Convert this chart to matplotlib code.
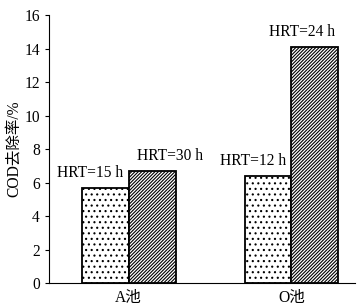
import numpy as np
import matplotlib.pyplot as plt

plt.rcParams['font.family'] = ['Liberation Serif', 'Noto Sans CJK SC']
plt.rcParams['hatch.linewidth'] = 0.8

groups = ['A池', 'O池']
short_vals = [5.7, 6.4]
long_vals = [6.7, 14.1]
short_labels = ['HRT=15 h', 'HRT=12 h']
long_labels = ['HRT=30 h', 'HRT=24 h']

fig = plt.figure(figsize=(3.57, 3.08), dpi=100)
ax = fig.add_axes([0.137, 0.081, 0.857, 0.87])

x = np.arange(len(groups))
w = 0.288
b1 = ax.bar(x - w / 2, short_vals, w, color='white', edgecolor='black',
            hatch='...', linewidth=1.3)
b2 = ax.bar(x + w / 2, long_vals, w, color='white', edgecolor='black',
            hatch='//////////', linewidth=1.3)

fs = 11.2
# horizontal nudges of the labels (points), as in the original figure
short_dx = [-11, -11]
long_dx = [13, -9]
for i in range(len(groups)):
    ax.annotate(short_labels[i], (x[i] - w / 2, short_vals[i]),
                xytext=(short_dx[i], 5), textcoords='offset points',
                ha='center', va='bottom', fontsize=fs)
    ax.annotate(long_labels[i], (x[i] + w / 2, long_vals[i]),
                xytext=(long_dx[i], 5), textcoords='offset points',
                ha='center', va='bottom', fontsize=fs)

ax.set_xlim(-0.49, 1.39)
ax.set_ylim(0, 16)
ax.set_yticks(range(0, 17, 2))
ax.set_xticks(x)
ax.set_xticklabels(groups, fontsize=fs)
ax.tick_params(axis='x', length=0, pad=5)
ax.tick_params(axis='y', length=3, labelsize=fs, direction='out')
ax.set_ylabel('COD去除率/%', fontsize=fs, labelpad=2)
ax.spines['top'].set_visible(False)
ax.spines['right'].set_visible(False)

fig.savefig('out.png', dpi=100)
